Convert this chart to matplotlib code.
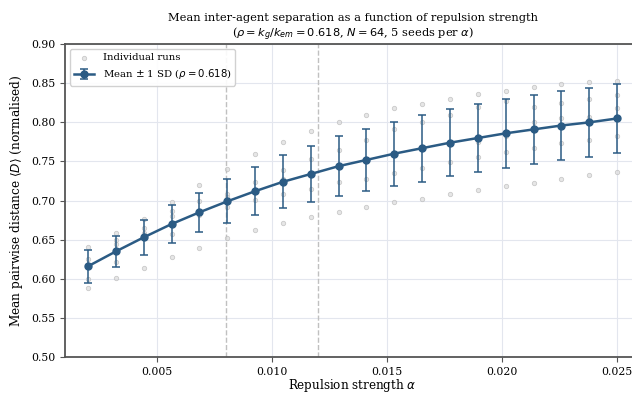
import numpy as np
import matplotlib
matplotlib.use("Agg")
import matplotlib.pyplot as plt

# データ
alpha = np.linspace(0.002, 0.025, 20)
mean_d = [0.616, 0.635, 0.653, 0.670, 0.685, 0.699, 0.712, 0.724, 0.734, 0.744,
          0.752, 0.760, 0.767, 0.774, 0.780, 0.786, 0.791, 0.796, 0.800, 0.805]
sd_d = [0.021, 0.020, 0.022, 0.024, 0.025, 0.028, 0.031, 0.034, 0.036, 0.038,
        0.040, 0.041, 0.043, 0.043, 0.044, 0.044, 0.044, 0.044, 0.044, 0.044]
runs = [
    [0.641, 0.625, 0.617, 0.600, 0.588],
    [0.659, 0.649, 0.645, 0.621, 0.601],
    [0.676, 0.665, 0.658, 0.652, 0.614],
    [0.698, 0.687, 0.680, 0.657, 0.628],
    [0.720, 0.699, 0.681, 0.685, 0.640],
    [0.740, 0.708, 0.692, 0.704, 0.652],
    [0.759, 0.724, 0.701, 0.662, 0.714],
    [0.775, 0.739, 0.708, 0.671, 0.727],
    [0.789, 0.753, 0.715, 0.679, 0.734],
    [0.800, 0.765, 0.686, 0.745, 0.724],
    [0.809, 0.778, 0.728, 0.692, 0.753],
    [0.818, 0.791, 0.735, 0.698, 0.758],
    [0.824, 0.801, 0.742, 0.702, 0.766],
    [0.830, 0.810, 0.749, 0.708, 0.773],
    [0.836, 0.820, 0.756, 0.713, 0.775],
    [0.840, 0.827, 0.762, 0.719, 0.782],
    [0.845, 0.767, 0.723, 0.820, 0.800],
    [0.849, 0.773, 0.728, 0.825, 0.805],
    [0.852, 0.778, 0.733, 0.830, 0.807],
    [0.853, 0.782, 0.737, 0.835, 0.818],
]
crit_lines = [0.008, 0.012]
rho = 0.618

plt.rcParams['font.family'] = 'DejaVu Serif'
plt.rcParams['mathtext.fontset'] = 'dejavusans'

fig = plt.figure(figsize=(6.32, 3.94), dpi=100)
# 右端は元画像と同じく図の外まで伸ばす
ax = fig.add_axes([0.1029, 0.0939, 0.9098, 0.794])

# 個別の試行
for i, a in enumerate(alpha):
    ax.scatter([a] * len(runs[i]), runs[i], s=10, color='#dcdcdc', alpha=0.7,
               edgecolors='#b8b8b8', linewidths=0.6, zorder=2,
               label='Individual runs' if i == 0 else None)

ax.errorbar(alpha, mean_d, yerr=sd_d, color='#2b5b84', marker='o', markersize=5,
            linewidth=1.8, capsize=3, elinewidth=1.1, capthick=1.1, zorder=3,
            label=r'Mean $\pm$ 1 SD ($\rho = %.3f$)' % rho)

for c in crit_lines:
    ax.axvline(c, color='#c0c0c0', linestyle='--', linewidth=1, zorder=1)

ax.set_ylim(0.50, 0.90)
ax.set_yticks(np.arange(0.50, 0.901, 0.05))
ax.set_xticks([0.005, 0.010, 0.015, 0.020, 0.025])
ax.set_xlim(0.001, 0.026)
ax.grid(True, color='#e3e6ee', linewidth=0.8, zorder=0)
ax.set_axisbelow(True)
for s in ax.spines.values():
    s.set_color('#555555')
    s.set_linewidth(1.3)
ax.spines['right'].set_visible(False)
ax.tick_params(labelsize=7.8, color='#555555', length=3.5)

ax.set_xlabel(r'Repulsion strength $\alpha$', fontsize=8.6, labelpad=0.5)
ax.set_ylabel(r'Mean pairwise distance $\langle D \rangle$ (normalised)', fontsize=8.7)
ax.set_title('Mean inter-agent separation as a function of repulsion strength\n'
             r'($\rho = k_g/k_{em} = 0.618$, $N = 64$, 5 seeds per $\alpha$)',
             fontsize=8.2, pad=5)
ax.legend(loc='upper left', fontsize=7.3, framealpha=0.9, edgecolor='#cccccc')

plt.savefig('out.png', dpi=100)
